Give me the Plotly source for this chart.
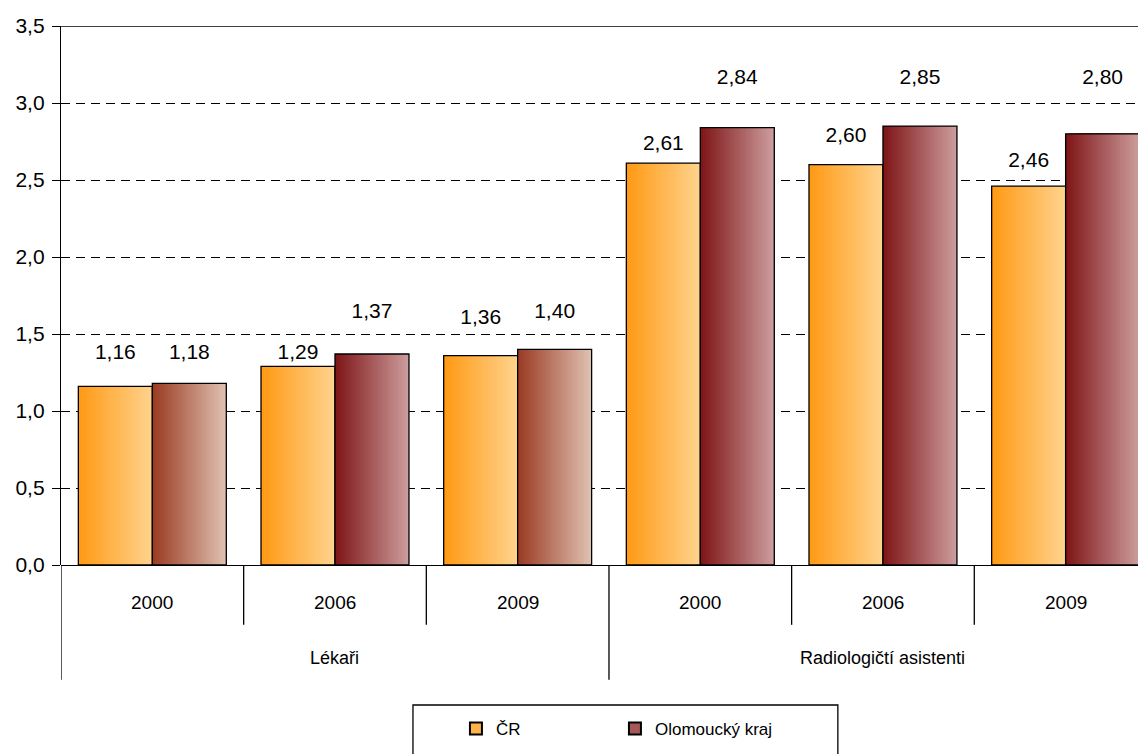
import plotly.graph_objects as go

# ---------------- data ----------------
years = ["2000", "2006", "2009", "2000", "2006", "2009"]
groups = ["Lékaři", "Radiologičtí asistenti"]
group_sizes = [3, 3]
series_names = ["ČR", "Olomoucký kraj"]
cr_values = [1.16, 1.29, 1.36, 2.61, 2.60, 2.46]
olk_values = [1.18, 1.37, 1.40, 2.84, 2.85, 2.80]
# label vertical positions (as placed in the original chart)
cr_label_y = [1.37, 1.37, 1.60, 2.73, 2.78, 2.62]
olk_label_y = [1.37, 1.64, 1.64, 3.16, 3.16, 3.16]

# ---------------- styles ----------------
FONT = "Liberation Sans, Arial, sans-serif"
cr_grad = [((255, 153, 20), (255, 212, 142))] * 6
brown = ((154, 58, 34), (224, 194, 178))
red = ((126, 20, 22), (206, 158, 158))
olk_grad = [brown, red, brown, red, red, red]

BAR_W = 0.405
N_STRIPS = 30
x = list(range(len(years)))


def lerp(c0, c1, t):
    return "rgb(%d,%d,%d)" % tuple(round(a + (b - a) * t) for a, b in zip(c0, c1))


fig = go.Figure()


def add_gradient_bar(values, grads, base_offset, name, legend_color):
    sw = BAR_W / N_STRIPS
    for i in range(N_STRIPS):
        t = (i + 0.5) / N_STRIPS
        colors = [lerp(g[0], g[1], t) for g in grads]
        fig.add_trace(go.Bar(
            x=x, y=values, width=BAR_W - i * sw, offset=base_offset + i * sw,
            marker=dict(color=colors, line=dict(width=0)),
            showlegend=False, hoverinfo="skip"))
    fig.add_trace(go.Bar(
        x=x, y=values, width=BAR_W, offset=base_offset,
        marker=dict(color="rgba(0,0,0,0)", line=dict(color="black", width=1.3)),
        showlegend=False, name=name))
    # legend entry
    fig.add_trace(go.Bar(
        x=[None], y=[None], name=name,
        marker=dict(color=legend_color, line=dict(color="black", width=1.3))))


add_gradient_bar(cr_values, cr_grad, -BAR_W, series_names[0], "#FFB24A")
add_gradient_bar(olk_values, olk_grad, 0, series_names[1], "#A65858")

# data labels
fig.add_trace(go.Scatter(
    x=[xi - BAR_W / 2 for xi in x], y=cr_label_y, mode="text",
    text=[f"{v:.2f}".replace(".", ",") for v in cr_values],
    textfont=dict(family=FONT, size=21, color="black"),
    showlegend=False, hoverinfo="skip"))
fig.add_trace(go.Scatter(
    x=[xi + BAR_W / 2 for xi in x], y=olk_label_y, mode="text",
    text=[f"{v:.2f}".replace(".", ",") for v in olk_values],
    textfont=dict(family=FONT, size=21, color="black"),
    showlegend=False, hoverinfo="skip"))

shapes = []
annotations = []
# top border
shapes.append(dict(type="line", xref="paper", yref="y", x0=0, x1=1, y0=3.5, y1=3.5,
                   line=dict(color="black", width=1.3)))
# year labels and inner dividers
for i, yr in enumerate(years):
    annotations.append(dict(x=i, y=-0.0705, xref="x", yref="paper", text=yr, showarrow=False,
                            font=dict(family=FONT, size=19, color="black"),
                            xanchor="center", yanchor="middle"))
start = 0
group_starts = []
for gs in group_sizes:
    group_starts.append(start)
    start += gs
for i in range(len(years) + 1):
    outer = i in group_starts or i == len(years)
    y1 = -0.213 if outer else -0.111
    shapes.append(dict(type="line", xref="x", yref="paper", x0=i - 0.5, x1=i - 0.5,
                       y0=0, y1=y1, line=dict(color="black", width=1.3)))
for g, s, n in zip(groups, group_starts, group_sizes):
    annotations.append(dict(x=s + (n - 1) / 2, y=-0.1725, xref="x", yref="paper", text=g,
                            showarrow=False, font=dict(family=FONT, size=18, color="black"),
                            xanchor="center", yanchor="middle"))
# legend box
shapes.append(dict(type="rect", xref="paper", yref="paper", x0=0.3244, x1=0.716,
                   y0=-0.2597, y1=-0.37, line=dict(color="black", width=1.3),
                   fillcolor="rgba(0,0,0,0)"))

fig.update_layout(
    width=1138, height=746,
    margin=dict(l=53, r=0, t=18, b=189, autoexpand=False),
    paper_bgcolor="white", plot_bgcolor="white",
    barmode="overlay",
    separators=", ",
    font=dict(family=FONT, size=17, color="black"),
    xaxis=dict(range=[-0.5, 5.44], showticklabels=False, showgrid=False, zeroline=False,
               ticks="", showline=False, fixedrange=True, automargin=False),
    yaxis=dict(range=[0, 3.5], tickvals=[0, 0.5, 1.0, 1.5, 2.0, 2.5, 3.0, 3.5],
               tickformat=".1f", ticks="outside", ticklen=8, tickcolor="black",
               tickwidth=1.3, showline=True, linecolor="black", linewidth=1.3,
               showgrid=True, gridcolor="black", gridwidth=1, griddash="9px,6px",
               zeroline=True, zerolinecolor="black", zerolinewidth=1.3, automargin=False,
               tickfont=dict(family=FONT, size=21, color="black"), ticklabelstandoff=3),
    legend=dict(orientation="h", x=0.364, y=-0.271, xanchor="left", yanchor="top",
                bgcolor="rgba(0,0,0,0)", borderwidth=0, entrywidth=114,
                font=dict(family=FONT, size=17, color="black"),
                traceorder="normal", itemsizing="constant"),
    shapes=shapes, annotations=annotations,
    showlegend=True,
)

fig.write_html("out.html")
